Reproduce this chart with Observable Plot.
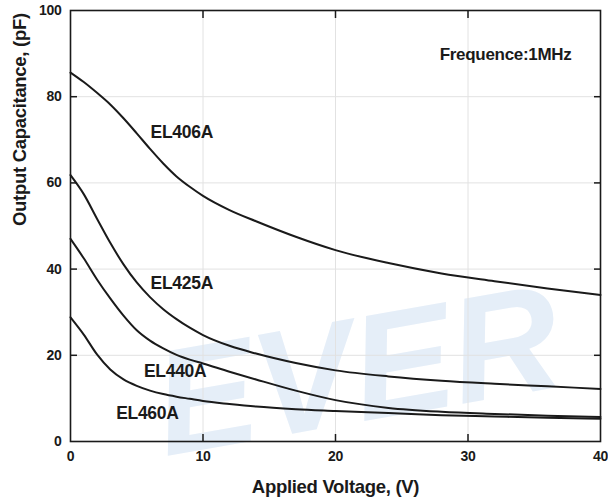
<!DOCTYPE html>
<html>
<head>
<meta charset="utf-8">
<script src="https://cdn.jsdelivr.net/npm/d3@7"></script>
<script src="https://cdn.jsdelivr.net/npm/@observablehq/plot@0.6"></script>
<style>
  html, body { margin: 0; padding: 0; background: #ffffff; }
  #chart svg { font-family: "Liberation Sans", Arial, sans-serif; }
  #chart svg text { letter-spacing: -0.3px; }
</style>
</head>
<body>
<div id="chart"></div>
<script>
// Applied voltage (V)
const voltage = [0, 1, 2, 3, 4, 5, 6, 7, 8, 9, 10, 12, 14, 17, 20, 24, 28, 32, 36, 40];
// Output capacitance (pF)
const el406a = [85.6, 83.4, 80.9, 78.2, 75.0, 71.5, 67.9, 64.5, 61.5, 59.1, 57.0, 53.7, 51.1, 47.5, 44.4, 41.4, 39.0, 37.2, 35.5, 34.0];
const el425a = [61.8, 57.4, 51.7, 46.1, 41.1, 36.9, 33.5, 30.7, 28.4, 26.4, 24.7, 22.2, 20.4, 18.2, 16.5, 15.1, 14.1, 13.4, 12.8, 12.2];
const el440a = [47.0, 42.5, 37.6, 33.2, 29.2, 25.8, 23.4, 21.6, 20.1, 19.0, 18.1, 16.2, 14.4, 11.8, 9.6, 7.8, 6.9, 6.4, 6.0, 5.7];
const el460a = [28.8, 24.8, 20.2, 16.7, 14.4, 12.9, 11.8, 11.0, 10.4, 9.9, 9.4, 8.7, 8.1, 7.5, 7.1, 6.6, 6.1, 5.8, 5.5, 5.3];

const seriesNames = ["EL406A", "EL425A", "EL440A", "EL460A"];
const seriesValues = [el406a, el425a, el440a, el460a];

// in-chart series labels (data coordinates)
const labelVoltage = [8.4, 8.4, 7.9, 5.8];
const labelCapacitance = [71.8, 36.6, 16.2, 6.6];

const xTicks = [0, 10, 20, 30, 40];
const yTicks = [0, 20, 40, 60, 80, 100];
const xGrid = [10, 20, 30];
const yGrid = [20, 40, 60, 80];

const xTitle = "Applied Voltage, (V)";
const yTitle = "Output Capacitance, (pF)";
const note = "Frequence:1MHz";
const watermark = "EVER";

const rows = [];
seriesNames.forEach((name, s) => {
  voltage.forEach((v, i) => rows.push({series: name, v, c: seriesValues[s][i]}));
});
const labels = seriesNames.map((name, i) => ({name, v: labelVoltage[i], c: labelCapacitance[i]}));

const ink = "#1a1a1a";
const blank = () => "";

const chart = Plot.plot({
  width: 608,
  height: 502,
  marginLeft: 70,
  marginRight: 8,
  marginTop: 10,
  marginBottom: 61,
  x: {domain: [0, 40]},
  y: {domain: [0, 100]},
  style: {background: "#ffffff", color: ink, fontSize: "14px", fontWeight: "bold", fontFamily: "Liberation Sans, Arial, sans-serif"},
  marks: [
    Plot.text([watermark], {frameAnchor: "bottom", dx: 22, dy: -68, text: d => d, fontSize: 150, fontWeight: "bold", fontStyle: "italic", rotate: -10, fill: "#e5eef8", textAnchor: "middle", lineAnchor: "middle"}),
    Plot.gridX(xGrid, {stroke: "#e2e2e2", strokeOpacity: 1, strokeWidth: 1}),
    Plot.gridY(yGrid, {stroke: "#e2e2e2", strokeOpacity: 1, strokeWidth: 1}),
    Plot.line(rows, {x: "v", y: "c", z: "series", stroke: ink, strokeWidth: 2, curve: "monotone-x"}),
    Plot.axisX(xGrid, {anchor: "bottom", tickSize: -7, tickFormat: blank, label: null, strokeWidth: 1.5}),
    Plot.axisX(xGrid, {anchor: "top", tickSize: -7, tickFormat: blank, label: null, strokeWidth: 1.5}),
    Plot.axisY(yGrid, {anchor: "left", tickSize: -7, tickFormat: blank, label: null, strokeWidth: 1.5}),
    Plot.axisY(yGrid, {anchor: "right", tickSize: -7, tickFormat: blank, label: null, strokeWidth: 1.5}),
    Plot.axisX(xTicks, {anchor: "bottom", tickSize: 0, tickPadding: 10, label: null, fontSize: 14}),
    Plot.axisY(yTicks, {anchor: "left", tickSize: 0, tickPadding: 9, label: null, fontSize: 14}),
    Plot.frame({stroke: ink, strokeWidth: 1.6}),
    Plot.text([xTitle], {frameAnchor: "bottom", dy: 46, text: d => d, fontSize: 18.5, fontWeight: "bold", lineAnchor: "middle", fill: ink}),
    Plot.text([yTitle], {frameAnchor: "left", dx: -50, rotate: -90, text: d => d, fontSize: 18.5, fontWeight: "bold", lineAnchor: "middle", fill: ink}),
    Plot.text([note], {frameAnchor: "top-right", dx: -29, dy: 44, text: d => d, fontSize: 17, fontWeight: "bold", textAnchor: "end", lineAnchor: "middle", fill: ink}),
    Plot.text(labels, {x: "v", y: "c", text: "name", fontSize: 17.5, fontWeight: "bold", fill: ink})
  ]
});
document.getElementById("chart").appendChild(chart);
</script>
</body>
</html>
